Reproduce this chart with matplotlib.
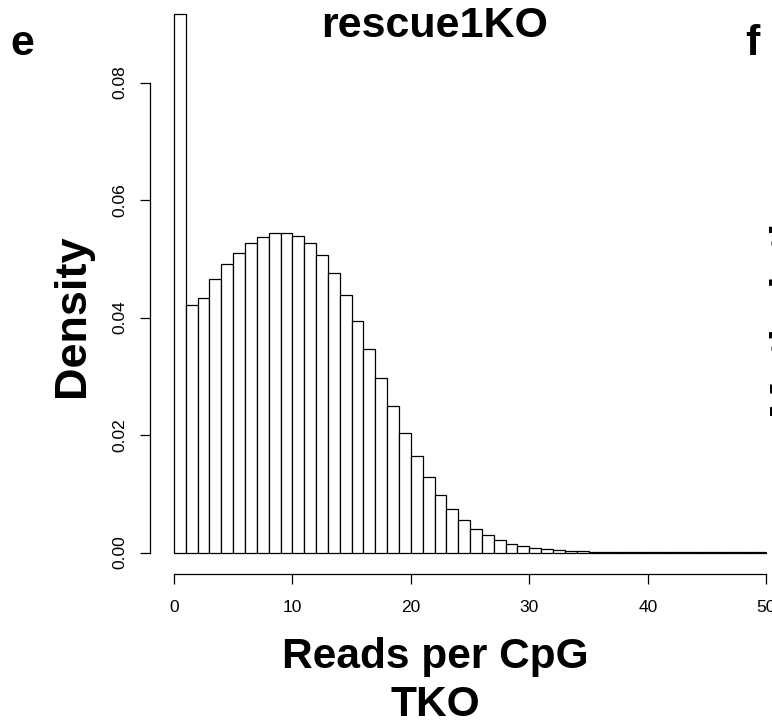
import matplotlib
matplotlib.use("Agg")
import matplotlib.pyplot as plt
import numpy as np

plt.rcParams['font.family'] = ['Liberation Sans', 'DejaVu Sans']

# ---- data ----
bin_edges = list(range(0, 51))
density = [0.0916, 0.0422, 0.0434, 0.0465, 0.0491, 0.0510, 0.0526, 0.0537, 0.0544, 0.0544,
           0.0539, 0.0527, 0.0506, 0.0475, 0.0438, 0.0394, 0.0347, 0.0297, 0.0250, 0.0204,
           0.0164, 0.0128, 0.0098, 0.0074, 0.0055, 0.0040, 0.0029, 0.0021, 0.0015, 0.0011,
           0.0008, 0.00055, 0.0004, 0.0003, 0.0002, 0.00015, 0.0001, 0.00008, 0.00006, 0.00005,
           0.00004, 0.00003, 0.00003, 0.00002, 0.00002, 0.00002, 0.00001, 0.00001, 0.00001, 0.00001]
x_ticks = [0, 10, 20, 30, 40, 50]
y_ticks = [0.00, 0.02, 0.04, 0.06, 0.08]
y_ticklabels = ["0.00", "0.02", "0.04", "0.06", "0.08"]

W, H = 772, 725
fig = plt.figure(figsize=(W / 100, H / 100), dpi=100)
fig.patch.set_facecolor('white')

# axes placed in pixel coordinates (R-style 4% padding)
left_px, right_px = 150.2, 790.0
top_px, bottom_px = 36.5, 574.0
ax = fig.add_axes([left_px / W, 1 - bottom_px / H, (right_px - left_px) / W, (bottom_px - top_px) / H])
ax.set_xlim(-2, 52)
ax.set_ylim(-21.5 / 5875, (552.5 - 36.5) / 5875)
ax.patch.set_alpha(0)

ax.bar(bin_edges[:-1], density, width=1, align='edge', color='white',
       edgecolor='black', linewidth=0.9, clip_on=False)

for s in ['top', 'right']:
    ax.spines[s].set_visible(False)
ax.spines['left'].set_bounds(0, 0.08)
ax.spines['bottom'].set_bounds(0, 50)
for s in ['left', 'bottom']:
    ax.spines[s].set_linewidth(0.9)

ax.set_xticks(x_ticks)
ax.set_xticklabels([str(v) for v in x_ticks])
ax.set_yticks(y_ticks)
ax.set_yticklabels(y_ticklabels, rotation=90, va='center')
ax.tick_params(axis='both', direction='out', length=7.5, width=0.9, labelsize=12.5)
ax.tick_params(axis='y', pad=9)
ax.tick_params(axis='x', pad=11)
for lab in ax.get_xticklabels():
    lab.set_clip_on(False)

def px(x, y):
    return x / W, 1 - y / H

fig.text(*px(435, 37), "rescue1KO", ha='center', va='baseline', fontsize=31, fontweight='bold')
fig.text(*px(435, 668), "Reads per CpG", ha='center', va='baseline', fontsize=30.5, fontweight='bold')
fig.text(*px(435, 716), "TKO", ha='center', va='baseline', fontsize=30.5, fontweight='bold')
fig.text(*px(84, 316), "Density", rotation=90, rotation_mode='anchor',
         ha='center', va='baseline', fontsize=32.5, fontweight='bold')
fig.text(*px(10, 55), "e", ha='left', va='baseline', fontsize=31, fontweight='bold')
fig.text(*px(745, 55), "f", ha='left', va='baseline', fontsize=31, fontweight='bold')
fig.text(*px(767, 290), "Methylation", rotation=90, rotation_mode='anchor',
         ha='center', va='top', fontsize=32.5, fontweight='bold')

fig.savefig("out.png", dpi=100, facecolor='white')
